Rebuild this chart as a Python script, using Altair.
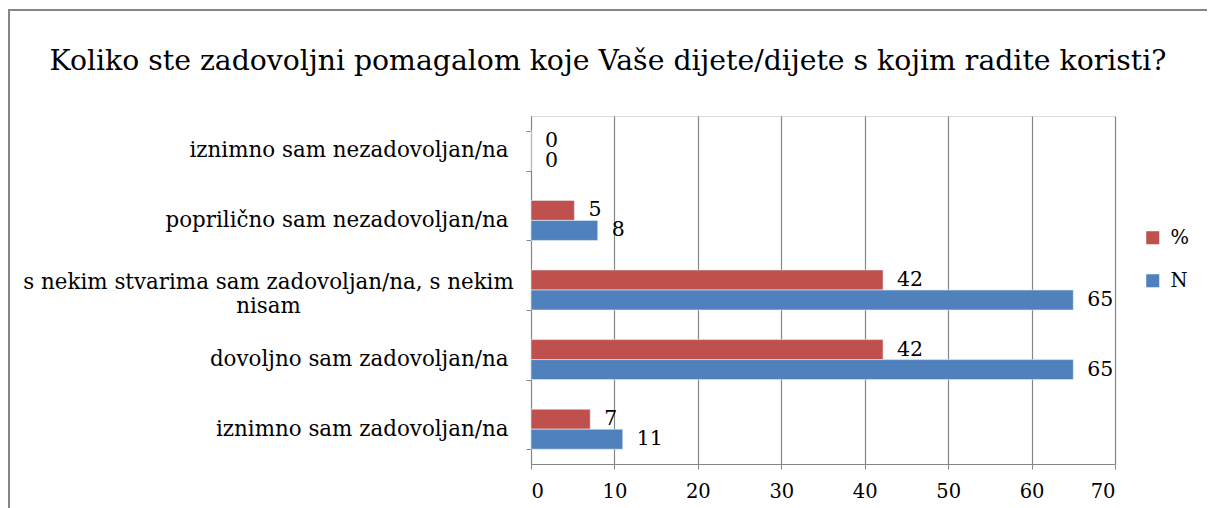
import altair as alt
import pandas as pd

title_text = "Koliko ste zadovoljni pomagalom koje Vaše dijete/dijete s kojim radite koristi?"
categories = [
    "iznimno sam nezadovoljan/na",
    "poprilično sam nezadovoljan/na",
    "s nekim stvarima sam zadovoljan/na, s nekim\nnisam",
    "dovoljno sam zadovoljan/na\u00a0",
    "iznimno sam zadovoljan/na",
]
pct_values = [0, 5.2, 42.2, 42.2, 7.1]
n_values = [0, 8, 65, 65, 11]
series = ["%", "N"]
colors = ["#C0504D", "#4F81BD"]
x_ticks = [0, 10, 20, 30, 40, 50, 60, 70]

rows = []
for c, p, n in zip(categories, pct_values, n_values):
    rows.append({"category": c, "series": "%", "value": p})
    rows.append({"category": c, "series": "N", "value": n})
df = pd.DataFrame(rows)

FONT = "DejaVu Serif"
GRAY = "#868686"
long_label = categories[2]
is_long = f"datum.value == {repr(long_label)}"

y_enc = alt.Y(
    "category:N",
    sort=categories,
    scale=alt.Scale(paddingInner=0.425, paddingOuter=0.2125),
    axis=alt.Axis(
        title=None,
        labelFont=FONT,
        labelFontSize=21.4,
        labelColor="black",
        labelLimit=600,
        labelLineHeight=24,
        labelExpr="split(datum.label, '\\n')",
        labelAlign={"condition": {"test": is_long, "value": "center"}, "value": "right"},
        labelPadding={"condition": {"test": is_long, "value": 258}, "value": 18},
        labelOffset={"condition": {"test": is_long, "value": -8}, "value": 0},
        tickBand="extent",
        tickSize=5,
        tickColor=GRAY,
        domainColor=GRAY,
        grid=False,
    ),
)
yoff = alt.YOffset("series:N", sort=series, scale=alt.Scale(paddingInner=0, paddingOuter=0))
x_enc = alt.X(
    "value:Q",
    scale=alt.Scale(domain=[0, 70], nice=False),
    axis=alt.Axis(
        title=None,
        values=x_ticks,
        labelFont=FONT,
        labelFontSize=19.5,
        labelColor="black",
        labelPadding=13,
        tickSize=5,
        tickColor=GRAY,
        domainColor=GRAY,
        grid=True,
        gridColor=GRAY,
        gridWidth=1.2,
    ),
)
color_enc = alt.Color(
    "series:N",
    sort=series,
    scale=alt.Scale(domain=series, range=colors),
    legend=alt.Legend(
        title=None,
        orient="none",
        legendX=612,
        legendY=112,
        symbolType="square",
        symbolSize=170,
        symbolStrokeWidth=0,
        labelFont=FONT,
        labelFontSize=19.5,
        labelColor="black",
        rowPadding=22,
        labelOffset=8,
    ),
)

bars = alt.Chart(df).mark_bar(stroke="#E6EEF7", strokeWidth=0.6).encode(
    y=y_enc, yOffset=yoff, x=x_enc, color=color_enc
)
labels = alt.Chart(df).mark_text(
    align="left", baseline="middle", dx=14, font=FONT, fontSize=20.5, color="black"
).encode(
    y=alt.Y("category:N", sort=categories),
    yOffset=alt.YOffset("series:N", sort=series),
    x=alt.X("value:Q"),
    text=alt.Text("value:Q", format=".0f"),
)
meta = alt.Data(values=[{"title": title_text}])
frame = alt.Chart(meta).mark_rect(
    fill="transparent", stroke=GRAY, strokeWidth=2
).encode(
    x=alt.value(-522), x2=alt.value(720), y=alt.value(-106), y2=alt.value(500)
)
title = alt.Chart(meta).mark_text(
    font=FONT, fontSize=28.3, color="black", align="center", baseline="alphabetic"
).encode(
    text="title:N", x=alt.value(77), y=alt.value(-46)
)

chart = alt.layer(frame, title, bars, labels).properties(
    width=584,
    height=348,
    autosize="none",
    padding={"left": 523, "top": 108, "right": 92, "bottom": 60},
).configure_view(stroke=None).configure(background="white")

chart.save("out.html", embed_options={"renderer": "svg", "actions": False})
